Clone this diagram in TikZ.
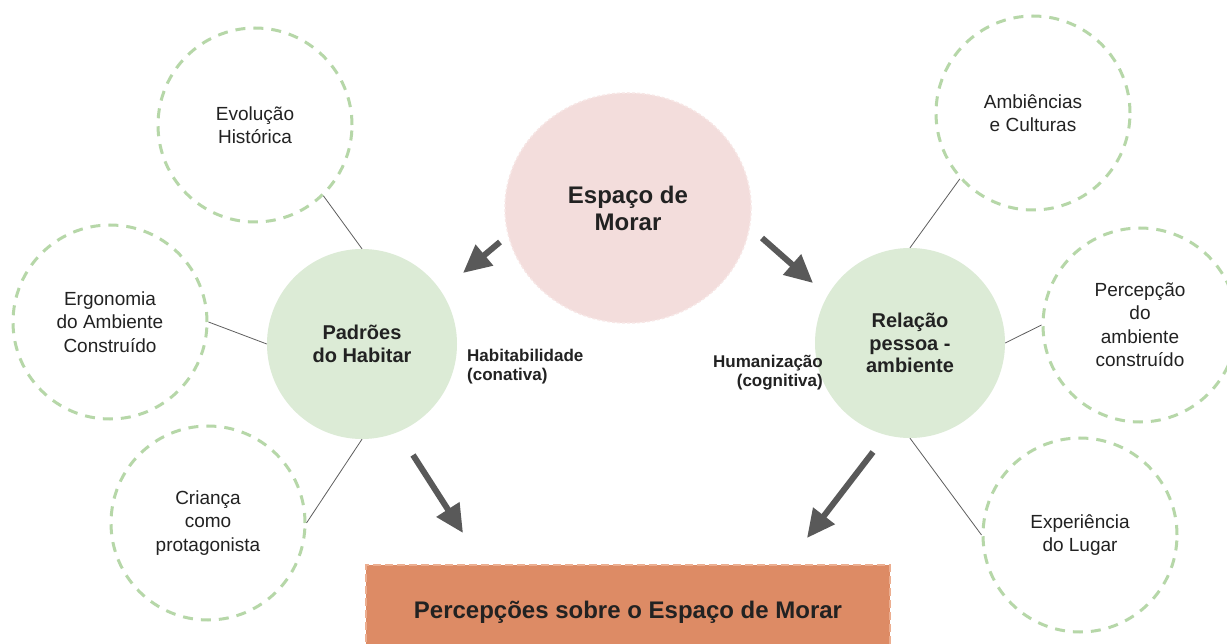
\documentclass[tikz,border=0pt]{standalone}
\usepackage{fontspec}
\setmainfont{Liberation Sans}
\usetikzlibrary{shapes.geometric,arrows.meta}
\definecolor{dashgreen}{HTML}{B6D7A8}
\definecolor{fillgreen}{HTML}{DCEBD6}
\definecolor{pinkfill}{HTML}{F3DDDC}
\definecolor{pinkedge}{HTML}{F7E6E5}
\definecolor{orangefill}{HTML}{DD8B65}
\definecolor{orangeedge}{HTML}{ECAE90}
\definecolor{arrowgray}{HTML}{595959}
\definecolor{linegray}{HTML}{5E5E5E}
\definecolor{textblack}{HTML}{222222}

\begin{document}
\begin{tikzpicture}[x=1pt,y=-1pt]
            \tikzset{
                topic/.style={circle,draw=dashgreen,line width=3pt,dash pattern=on 10pt off 8pt,
                    minimum size=194pt,inner sep=0pt,align=center,text=textblack,
                    font=\fontsize{19}{23.5}\selectfont},
                core/.style={circle,fill=fillgreen,minimum size=190pt,inner sep=0pt,align=center,
                    text=textblack,font=\bfseries\fontsize{20}{22.5}\selectfont},
                link/.style={draw=linegray,line width=0.8pt},
                bigarrow/.style={draw=arrowgray,line width=6pt,-{Triangle[width=26pt,length=28pt]}},
                note/.style={inner sep=0pt,text=textblack,font=\bfseries\fontsize{17}{19}\selectfont},}
            \clip (0,0) rectangle (1227,644);
            \fill [white](0,0) rectangle (1227,644);
            % centre
            \node [ellipse,fill=pinkfill,draw=pinkedge,line width=1.5pt,dash pattern=on 3pt off 2pt,
                minimum width=246pt,minimum height=230pt,align=center,text=textblack,
                font=\bfseries\fontsize{24}{27}\selectfont] (morar) at (628,208) {Espaço de\\Morar};
            \node [core] (pad) at (362,344) {Padrões\\do Habitar};
            \node [core] (rel) at (910,343) {Relação\\pessoa -\\ambiente};
            % left side
            \node [topic] (evo) at (255,125) {Evolução\\Histórica};
            \node [topic] (erg) at (110,322) {Ergonomia\\do Ambiente\\Construído};
            \node [topic] (cri) at (208,523) {Criança\\como\\protagonista};
            % right side
            \node [topic] (amb) at (1033,113) {Ambiências\\e Culturas};
            \node [topic] (per) at (1140,325) {Percepção\\do\\ambiente\\construído};
            \node [topic] (exp) at (1080,535) {Experiência\\do Lugar};
            \draw [link] (evo.-46) -- (pad.north);
            \draw [link] (erg.east) -- (pad.west);
            \draw [link] (cri.east) -- (pad.south);
            \draw [link] (amb.222) -- (rel.north);
            \draw [link] (per.west) -- (rel.east);
            \draw [link] (exp.west) -- (rel.south);
            \node [note,anchor=north west,align=left] (hab) at (467,349) {Habitabilidade\\(conativa)};
            \node [note,anchor=north east,align=right] (hum) at (823,355) {Humanização\\(cognitiva)};
            \node [rectangle,fill=orangefill,draw=orangeedge,line width=2pt,dash pattern=on 8pt off 4pt,
                minimum width=524pt,minimum height=95pt,text=textblack,
                font=\bfseries\fontsize{24}{27}\selectfont] (percep) at (628,612.5) {Percepções sobre o Espaço de Morar};
            % arrows
            \coordinate (a1) at (500,242); \coordinate (b1) at (463,273);
            \coordinate (a2) at (762,238); \coordinate (b2) at (813,283);
            \coordinate (a3) at (413,455); \coordinate (b3) at (463,533);
            \coordinate (a4) at (873,452); \coordinate (b4) at (807,538);
            \draw [bigarrow] (a1) -- (b1);
            \draw [bigarrow] (a2) -- (b2);
            \draw [bigarrow] (a3) -- (b3);
            \draw [bigarrow] (a4) -- (b4);
        \end{tikzpicture}
\end{document}
